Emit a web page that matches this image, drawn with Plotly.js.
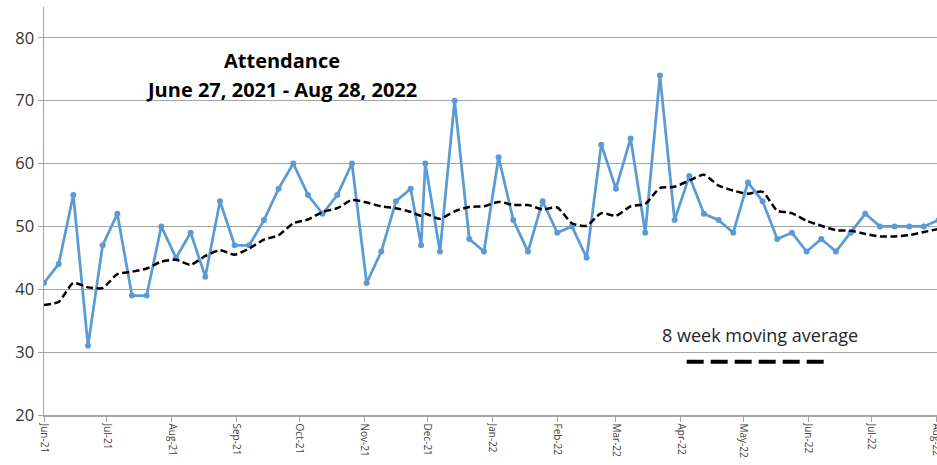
<!DOCTYPE html>
<html>
<head>
<meta charset="utf-8">
<script src="https://cdn.plot.ly/plotly-3.0.1.min.js"></script>
<style>html,body{margin:0;padding:0;background:#fff;}#chart{width:937px;height:465px;}</style>
</head>
<body>
<div id="chart"></div>
<script>
// Weekly attendance (plus Christmas Eve service)
const dates = [
  "2021-06-27","2021-07-04","2021-07-11","2021-07-18","2021-07-25",
  "2021-08-01","2021-08-08","2021-08-15","2021-08-22","2021-08-29",
  "2021-09-05","2021-09-12","2021-09-19","2021-09-26",
  "2021-10-03","2021-10-10","2021-10-17","2021-10-24","2021-10-31",
  "2021-11-07","2021-11-14","2021-11-21","2021-11-28",
  "2021-12-05","2021-12-12","2021-12-19","2021-12-24","2021-12-26",
  "2022-01-02","2022-01-09","2022-01-16","2022-01-23","2022-01-30",
  "2022-02-06","2022-02-13","2022-02-20","2022-02-27",
  "2022-03-06","2022-03-13","2022-03-20","2022-03-27",
  "2022-04-03","2022-04-10","2022-04-17","2022-04-24",
  "2022-05-01","2022-05-08","2022-05-15","2022-05-22","2022-05-29",
  "2022-06-05","2022-06-12","2022-06-19","2022-06-26",
  "2022-07-03","2022-07-10","2022-07-17","2022-07-24","2022-07-31",
  "2022-08-07","2022-08-14","2022-08-21","2022-08-28"
];
const attendance = [
  41,44,55,31,47,
  52,39,39,50,45,
  49,42,54,47,
  47,51,56,60,55,
  52,55,60,41,
  46,54,56,47,60,
  46,70,48,46,61,
  51,46,54,49,
  50,45,63,56,
  64,49,74,51,
  58,52,51,49,57,
  54,48,49,46,
  48,46,49,52,50,
  50,50,50,51
];
const movingAvg = [
  37.5,38.0,41.0,40.3,40.2,
  42.4,42.8,43.3,44.4,44.7,
  43.9,45.3,46.2,45.5,
  46.5,47.9,48.6,50.5,51.1,
  52.3,52.9,54.2,53.8,
  53.2,52.9,52.3,51.7,52.0,
  51.2,52.4,53.1,53.2,53.9,
  53.4,53.4,52.7,53.0,
  50.5,50.1,52.1,51.7,
  53.2,53.6,56.1,56.3,
  57.3,58.2,56.5,55.7,55.2,
  55.5,52.5,52.1,50.9,
  50.1,49.4,49.3,48.8,48.4,
  48.4,48.6,49.1,49.6
];
const tickDates = [
  "2021-06-27","2021-07-27","2021-08-27","2021-09-27","2021-10-27",
  "2021-11-27","2021-12-27","2022-01-27","2022-02-27","2022-03-27",
  "2022-04-27","2022-05-27","2022-06-27","2022-07-27","2022-08-27"
];
const tickLabels = [
  "Jun-21","Jul-21","Aug-21","Sep-21","Oct-21","Nov-21","Dec-21",
  "Jan-22","Feb-22","Mar-22","Apr-22","May-22","Jun-22","Jul-22","Aug-22"
];
const yTicks = [20,30,40,50,60,70,80];

const traces = [
  {
    x: dates, y: attendance, type: "scatter", mode: "lines+markers",
    line: {color: "#5B9BD5", width: 2.75},
    marker: {color: "#5B9BD5", size: 6},
    hoverinfo: "x+y", showlegend: false
  },
  {
    x: dates, y: movingAvg, type: "scatter", mode: "lines",
    line: {color: "#000000", width: 2.5, dash: "7px,3.5px", shape: "spline", smoothing: 0.6},
    hoverinfo: "x+y", showlegend: false
  }
];

const layout = {
  width: 937, height: 465,
  margin: {l: 44, r: 0, t: 7, b: 50},
  paper_bgcolor: "#ffffff", plot_bgcolor: "#ffffff",
  font: {family: "Open Sans, sans-serif", color: "#404040"},
  xaxis: {
    type: "date",
    range: ["2021-06-27", "2022-08-27 06:00"],
    tickmode: "array", tickvals: tickDates, ticktext: tickLabels,
    tickangle: 90, tickfont: {size: 10, color: "#404040"},
    ticklabeloverflow: "allow",
    ticks: "outside", ticklen: 5, tickcolor: "#A6A6A6",
    showgrid: false, zeroline: false,
    showline: true, linecolor: "#A6A6A6", linewidth: 1.5
  },
  yaxis: {
    range: [20, 84.9],
    tickmode: "array", tickvals: yTicks,
    tickfont: {size: 16.5, color: "#333333"},
    ticks: "outside", ticklen: 5, tickcolor: "#A6A6A6",
    showgrid: true, gridcolor: "#A6A6A6", gridwidth: 1,
    zeroline: false, showline: true, linecolor: "#A6A6A6", linewidth: 1.5
  },
  annotations: [
    {text: "<b>Attendance</b>", xref: "paper", yref: "paper", x: 0.2665, y: 0.870,
     showarrow: false, font: {family: "Open Sans, sans-serif", size: 20, color: "#000000"}, xanchor: "center", yanchor: "middle"},
    {text: "<b>June 27, 2021 - Aug 28, 2022</b>", xref: "paper", yref: "paper", x: 0.2665, y: 0.799,
     showarrow: false, font: {family: "Open Sans, sans-serif", size: 20, color: "#000000"}, xanchor: "center", yanchor: "middle"},
    {text: "8 week moving average", xref: "paper", yref: "paper", x: 0.8018, y: 0.196,
     showarrow: false, font: {family: "Open Sans, sans-serif", size: 18, color: "#262626"}, xanchor: "center", yanchor: "middle"}
  ],
  shapes: [
    {type: "line", xref: "paper", yref: "paper", x0: 0.7197, x1: 0.881, y0: 0.1306, y1: 0.1306,
     line: {color: "#000000", width: 4, dash: "17px,7px"}}
  ]
};

Plotly.newPlot("chart", traces, layout, {staticPlot: true, displayModeBar: false});
</script>
</body>
</html>
